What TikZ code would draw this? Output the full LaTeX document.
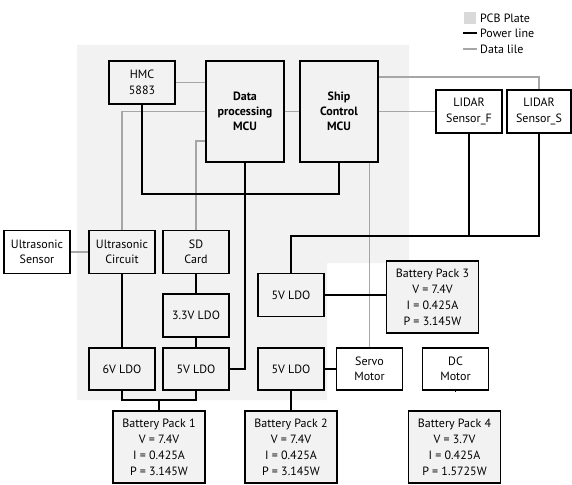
\documentclass[tikz,border=0pt]{standalone}
\usepackage{fontspec}
\setmainfont{PT Sans}
\usepackage{tikz}

\definecolor{platefill}{HTML}{F2F2F2}
\definecolor{dataline}{HTML}{A6A6A6}
\definecolor{legendfill}{HTML}{D9D9D9}

\tikzset{
  block/.style={draw, line width=1.9pt, align=center, minimum width=66pt, minimum height=43pt, inner sep=1pt, font=\fontsize{12}{15.5}\selectfont},
  mcu/.style={block, minimum width=78pt, minimum height=101pt, font=\bfseries\fontsize{12}{15}\selectfont},
  battery/.style={block, fill=platefill, minimum width=92pt, minimum height=72pt, font=\fontsize{12}{16}\selectfont},
  power/.style={draw, line width=2pt},
  data/.style={draw, dataline, line width=1.6pt},
  keytext/.style={anchor=west, inner sep=0pt, font=\fontsize{12}{13}\selectfont}
}

\begin{document}
\begin{tikzpicture}[x=1pt, y=-1pt]

\useasboundingbox (0,0) rectangle (572,484);
\fill[platefill] (77,45) -- (409,45) -- (409,263) -- (327,263) -- (327,400) -- (77,400) -- cycle;

\node[fill=legendfill, minimum size=12pt, inner sep=0pt] (keyplate) at (470,18) {};
\node[keytext] (keyplatetxt) at (480,18) {PCB Plate};
\coordinate (keypower) at (463,33);
\node[keytext] (keypowertxt) at (480,33) {Power line};
\coordinate (keydata) at (463,49);
\node[keytext] (keydatatxt) at (480,49) {Data lile};
\draw[power] (keypower) -- ++(14,0);
\draw[data] (keydata) -- ++(14,0);

\node[block] (hmc) at (142,82.5) {HMC\\5883};
\node[mcu] (dmcu) at (245,111.5) {Data\\processing\\MCU};
\node[mcu] (smcu) at (339,111.5) {Ship\\Control\\MCU};
\node[block] (lidf) at (469,111.5) {LIDAR\\Sensor\_F};
\node[block, minimum width=64pt] (lids) at (539,111.5) {LIDAR\\Sensor\_S};

\node[block] (usens) at (37,252) {Ultrasonic\\Sensor};
\node[block] (uscir) at (122,252) {Ultrasonic\\Circuit};
\node[block] (sd) at (196,252) {SD\\Card};
\node[block] (ldo33) at (196,315.5) {3.3V LDO};
\node[block, minimum height=42pt] (ldo6) at (122,369) {6V LDO};
\node[block, minimum height=42pt] (ldo5a) at (196,369) {5V LDO};
\node[block] (ldo5b) at (291,295) {5V LDO};
\node[block, minimum height=42pt] (ldo5c) at (291,369) {5V LDO};
\node[block, minimum height=42pt] (servo) at (369.5,369) {Servo\\Motor};
\node[block, minimum height=42pt] (dcm) at (455.5,369) {DC\\Motor};

\node[battery] (bat1) at (159,447) {Battery Pack 1\\V = 7.4V\\I = 0.425A\\P = 3.145W};
\node[battery] (bat2) at (291,447) {Battery Pack 2\\V = 7.4V\\I = 0.425A\\P = 3.145W};
\node[battery] (bat3) at (432.5,297) {Battery Pack 3\\V = 7.4V\\I = 0.425A\\P = 3.145W};
\node[battery] (bat4) at (454.5,447) {Battery Pack 4\\V = 3.7V\\I = 0.425A\\P = 1.5725W};

\coordinate (mcubus) at (0,194);
\coordinate (lidarbus) at (0,236);
\coordinate (bat1fork) at (159,400);

\draw[data] (hmc.east) -- (hmc.east -| dmcu.west);
\draw[data] (dmcu.west) -| (uscir.north);
\draw[data] ([yshift=-29.5pt]dmcu.west) -| (sd.north);
\draw[data] (dmcu.east) -- (smcu.west);
\draw[data] (smcu.east) -- (lidf.west);
\draw[data] ([yshift=34.5pt]smcu.east) -| (lids.north);
\draw[data] (servo.north |- smcu.south) -- (servo.north);
\draw[data] (usens.east) -- (uscir.west);

\draw[power] (hmc.south) |- (mcubus -| smcu.south) -- (smcu.south);
\draw[power] (dmcu.south) |- (ldo5a.east);
\draw[power] (uscir.south) -- (ldo6.north);
\draw[power] (sd.south) -- (ldo33.north);
\draw[power] (ldo33.south) -- (ldo5a.north);
\draw[power] (ldo6.south) |- (bat1fork) -| (ldo5a.south);
\draw[power] (bat1fork) -- (bat1.north);
\draw[power] (ldo5b.north) |- (lidarbus -| lids.south) -- (lids.south);
\draw[power] (lidf.south) -- (lidf.south |- lidarbus);
\draw[power] (ldo5b.east) -- (ldo5b.east -| bat3.west);
\draw[power] (ldo5c.east) -- (servo.west);
\draw[power] (ldo5c.south) -- (bat2.north);
\draw[power] (dcm.south) -- (dcm.south -| bat4.north);

\end{tikzpicture}
\end{document}
